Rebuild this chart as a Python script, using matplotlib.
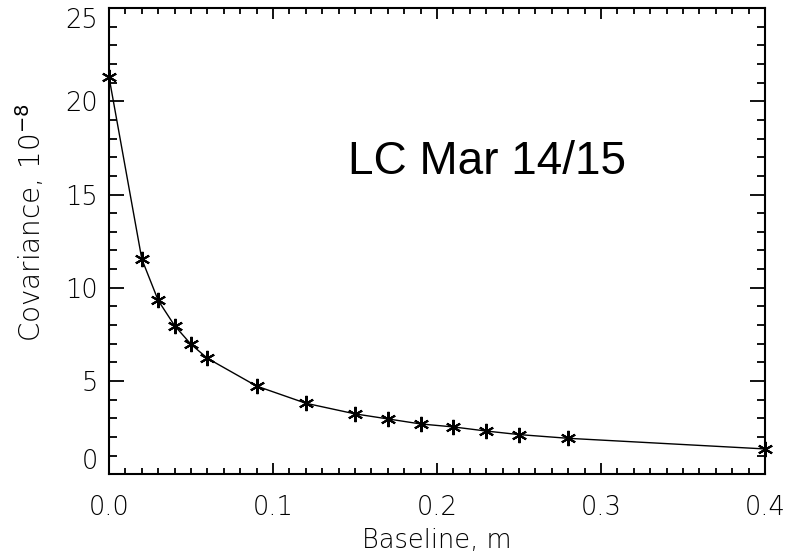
import numpy as np
import matplotlib
matplotlib.use('Agg')
import matplotlib.pyplot as plt
import matplotlib.ticker as mticker

# baseline (m) and covariance (units of 1e-8)
baseline = [0.0, 0.02, 0.03, 0.04, 0.05, 0.06, 0.09, 0.12, 0.15,
            0.17, 0.19, 0.21, 0.23, 0.25, 0.28, 0.40]
covar = [21.3, 11.54, 9.32, 7.97, 6.97, 6.22, 4.73, 3.81, 3.24,
         2.97, 2.70, 2.54, 2.32, 2.13, 1.93, 1.36]

xticks = [0.0, 0.1, 0.2, 0.3, 0.4]
xticklabels = ['0.0', '0.1', '0.2', '0.3', '0.4']
yticks = [0, 5, 10, 15, 20, 25]
yticklabels = ['0', '5', '10', '15', '20', '25']

tickfont = dict(family='DejaVu Sans', size=18.5, weight='ultralight')

fig = plt.figure(figsize=(7.94, 5.53), dpi=100)
ax = fig.add_axes([0.1373, 0.1423, 0.8262, 0.8432])

ax.plot(baseline, covar, color='k', lw=1.0,
        marker=(6, 2, 0), ms=11, mew=1.5, mec='k', clip_on=False)

ax.set_xlim(0.0, 0.4)
ax.set_ylim(0, 25)

ax.set_xticks(xticks)
ax.set_xticklabels(xticklabels, fontdict=tickfont)
ax.set_yticks(yticks)
ax.set_yticklabels(yticklabels, fontdict=tickfont)
ax.xaxis.set_minor_locator(mticker.MultipleLocator(0.01))
ax.yaxis.set_minor_locator(mticker.MultipleLocator(1))

ax.tick_params(which='both', direction='in', top=True, right=True, width=1.3)
ax.tick_params(axis='x', which='major', length=8, pad=15)
ax.tick_params(axis='x', which='minor', length=4.3)
ax.tick_params(axis='y', which='major', length=10.5, pad=8)
ax.tick_params(axis='y', which='minor', length=5.5)

# end labels sit inside the axis range, like the original
ylabs = ax.get_yticklabels()
ylabs[0].set_va('bottom')
ylabs[-1].set_va('top')

for s in ax.spines.values():
  s.set_linewidth(1.5)

ax.set_xlabel('Baseline, m', fontdict=tickfont, labelpad=6)
ax.set_ylabel('Covariance, 10$^{-8}$', family='DejaVu Sans', size=20,
              weight='ultralight')
ax.yaxis.set_label_coords(-0.094, 0.54)

ax.text(0.364, 0.644, 'LC Mar 14/15', transform=ax.transAxes,
        family='Liberation Sans', fontsize=33, va='baseline', ha='left')

plt.savefig('out.png', dpi=100)
plt.close()
